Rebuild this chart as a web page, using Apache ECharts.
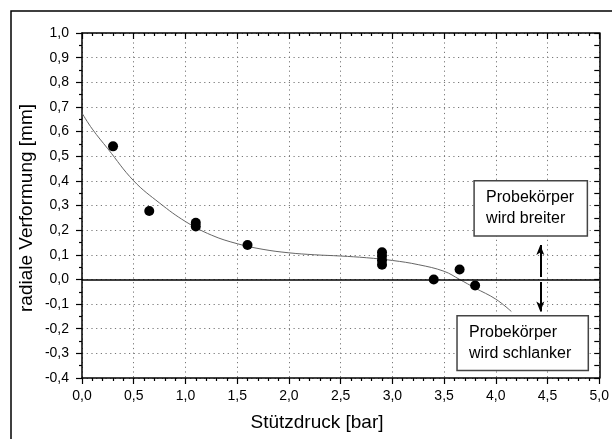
<!DOCTYPE html>
<html>
<head>
<meta charset="utf-8">
<script src="https://cdn.jsdelivr.net/npm/echarts@6/dist/echarts.min.js"></script>
<style>
html,body{margin:0;padding:0;background:#fff;}
#c{width:612px;height:439px;}
</style>
</head>
<body>
<div id="c"></div>
<script>
// Measured points
const pointX = [0.3, 0.65, 1.1, 1.1, 1.6, 2.9, 2.9, 2.9, 2.9, 3.4, 3.65, 3.8];
const pointY = [0.54, 0.278, 0.215, 0.23, 0.14, 0.06, 0.078, 0.095, 0.11, 0.0, 0.04, -0.025];
// Fitted curve
const fitX = [0, 0.1, 0.25, 0.5, 0.75, 1.0, 1.25, 1.5, 1.75, 2.0, 2.25, 2.5, 2.75, 3.0, 3.25, 3.5, 3.65, 3.8, 4.0, 4.15];
const fitY = [0.675, 0.61, 0.53, 0.40, 0.31, 0.235, 0.18, 0.145, 0.122, 0.108, 0.100, 0.095, 0.088, 0.077, 0.06, 0.033, 0.0, -0.035, -0.08, -0.13];
// Axis settings
const xRange = [0, 5], xStep = 0.5;
const yRange = [-0.4, 1.0], yStep = 0.1;
const xTitle = 'Stützdruck [bar]';
const yTitle = 'radiale Verformung [mm]';
const noteUp = ['Probekörper', 'wird breiter'];
const noteDown = ['Probekörper', 'wird schlanker'];
const arrowX = 4.43;
const arrowUp = [0.01, 0.14];
const arrowDown = [-0.01, -0.13];

const FONT = '"Liberation Sans", Arial, sans-serif';
const fmt = v => v.toFixed(1).replace('.', ',');

const chart = echarts.init(document.getElementById('c'), null, {renderer: 'canvas'});

const gridLine = {show: true, lineStyle: {color: '#777', type: [1.2, 3.5], width: 1}};
const axisLine = {show: true, onZero: false, lineStyle: {color: '#000', width: 1.5}};

const option = {
  animation: false,
  backgroundColor: '#fff',
  grid: {left: 82, top: 33, width: 520, height: 345, containLabel: false},
  xAxis: [
    {
      type: 'value', min: xRange[0], max: xRange[1], interval: xStep, position: 'bottom',
      axisLine: axisLine,
      axisTick: {show: true, inside: false, length: 6, lineStyle: {color: '#000', width: 1.2}},
      minorTick: {show: true, splitNumber: 5, length: 3, lineStyle: {color: '#000', width: 1.2}},
      splitLine: gridLine,
      axisLabel: {formatter: fmt, fontFamily: FONT, fontSize: 14, color: '#000', margin: 11}
    },
    {
      type: 'value', min: xRange[0], max: xRange[1], interval: xStep, position: 'top',
      axisLine: axisLine,
      axisTick: {show: true, inside: true, length: 6, lineStyle: {color: '#000', width: 1.2}},
      minorTick: {show: true, splitNumber: 5, length: 3, lineStyle: {color: '#000', width: 1.2}},
      splitLine: {show: false},
      axisLabel: {show: false}
    }
  ],
  yAxis: [
    {
      type: 'value', min: yRange[0], max: yRange[1], interval: yStep, position: 'left',
      axisLine: axisLine,
      axisTick: {show: true, inside: false, length: 6, lineStyle: {color: '#000', width: 1.2}},
      minorTick: {show: true, splitNumber: 2, length: 3, lineStyle: {color: '#000', width: 1.2}},
      splitLine: gridLine,
      axisLabel: {formatter: fmt, fontFamily: FONT, fontSize: 14, color: '#000', margin: 13}
    },
    {
      type: 'value', min: yRange[0], max: yRange[1], interval: yStep, position: 'right',
      axisLine: axisLine,
      axisTick: {show: true, inside: true, length: 5, lineStyle: {color: '#000', width: 1.2}},
      minorTick: {show: true, splitNumber: 2, length: 5, lineStyle: {color: '#000', width: 1.2}},
      splitLine: {show: false},
      axisLabel: {show: false}
    }
  ],
  series: [
    {
      type: 'line', xAxisIndex: 0, yAxisIndex: 0,
      data: fitX.map((x, i) => [x, fitY[i]]),
      smooth: 0.4, showSymbol: false, symbol: 'none',
      lineStyle: {color: '#666', width: 1},
      z: 3,
      markLine: {
        silent: true, symbol: ['none', 'arrow'], symbolSize: [6, 10],
        label: {show: false},
        lineStyle: {color: '#000', width: 2, type: 'solid'},
        data: [
          [{coord: [arrowX, arrowUp[0]]}, {coord: [arrowX, arrowUp[1]]}],
          [{coord: [arrowX, arrowDown[0]]}, {coord: [arrowX, arrowDown[1]]}]
        ]
      }
    },
    {
      type: 'scatter', xAxisIndex: 0, yAxisIndex: 0,
      data: pointX.map((x, i) => [x, pointY[i]]),
      symbol: 'circle', symbolSize: 10,
      itemStyle: {color: '#000', opacity: 1},
      z: 4,
      markLine: {
        silent: true, symbol: 'none', label: {show: false},
        lineStyle: {color: '#000', width: 1.5, type: 'solid'},
        data: [{yAxis: 0}]
      }
    }
  ],
  graphic: []
};
chart.setOption(option);

function box(x0, y0, x1, y1, lines) {
  const p0 = chart.convertToPixel({gridIndex: 0}, [x0, y0]);
  const p1 = chart.convertToPixel({gridIndex: 0}, [x1, y1]);
  const h = p1[1] - p0[1];
  return [
    {type: 'rect', z: 100, shape: {x: p0[0], y: p0[1], width: p1[0] - p0[0], height: h},
     style: {fill: '#fff', stroke: '#444', lineWidth: 1.5}},
    {type: 'text', z: 101, x: p0[0] + 12, y: p0[1] + h / 2 - 10.5,
     style: {text: lines[0], font: '16px ' + FONT, fill: '#000', verticalAlign: 'middle', align: 'left'}},
    {type: 'text', z: 101, x: p0[0] + 12, y: p0[1] + h / 2 + 10.5,
     style: {text: lines[1], font: '16px ' + FONT, fill: '#000', verticalAlign: 'middle', align: 'left'}}
  ];
}

const g = [];
g.push({type: 'rect', z: 200, shape: {x: 11, y: 11, width: 640, height: 460},
        style: {fill: 'none', stroke: '#000', lineWidth: 1.5}});
g.push(...box(3.79, 0.40, 4.885, 0.176, noteUp));
g.push(...box(3.625, -0.147, 4.894, -0.37, noteDown));
g.push({type: 'text', z: 101, x: 317, y: 423,
        style: {text: xTitle, font: '19px ' + FONT, fill: '#000', align: 'center', verticalAlign: 'middle'}});
g.push({type: 'text', z: 101, x: 27, y: 208, rotation: Math.PI / 2,
        style: {text: yTitle, font: '19px ' + FONT, fill: '#000', align: 'center', verticalAlign: 'middle'}});
chart.setOption({graphic: g});
</script>
</body>
</html>
